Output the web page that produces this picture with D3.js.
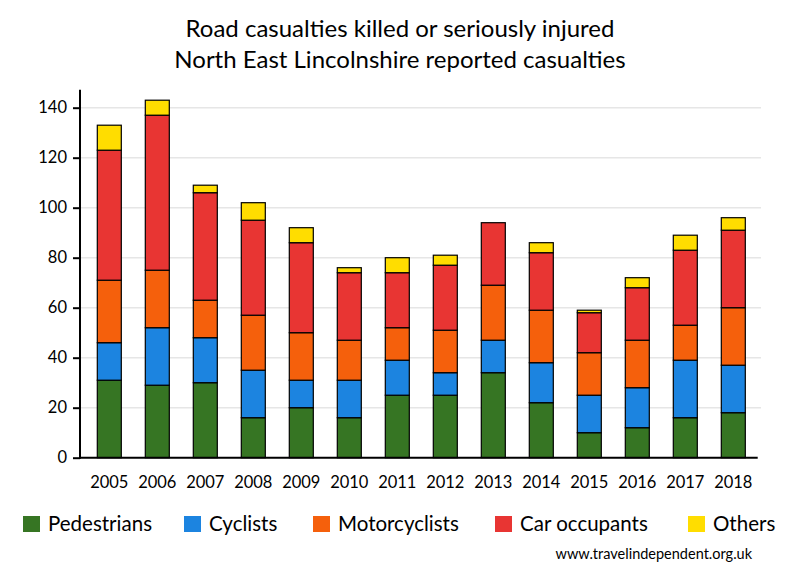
<!DOCTYPE html>
<html><head><meta charset="utf-8">
<script src="https://cdn.jsdelivr.net/npm/d3@7"></script>
<style>body{margin:0;background:#fff}text{font-family:Lato,"Open Sans",sans-serif;fill:#000}</style>
</head><body><svg id="c" width="800" height="580"></svg>
<script>
const years = ["2005","2006","2007","2008","2009","2010","2011","2012","2013","2014","2015","2016","2017","2018"];
const pedestrians = [31,29,30,16,20,16,25,25,34,22,10,12,16,18];
const cyclists    = [15,23,18,19,11,15,14, 9,13,16,15,16,23,19];
const motorcyclists=[25,23,15,22,19,16,13,17,22,21,17,19,14,23];
const carOccupants= [52,62,43,38,36,27,22,26,25,23,16,21,30,31];
const others      = [10, 6, 3, 7, 6, 2, 6, 4, 0, 4, 1, 4, 6, 5];
const seriesNames = ["Pedestrians","Cyclists","Motorcyclists","Car occupants","Others"];
const seriesColors = ["#367523","#1c84e0","#f5600c","#e83533","#ffdd00"];
const yTicks = [0,20,40,60,80,100,120,140];
const titleLines = ["Road casualties killed or seriously injured","North East Lincolnshire reported casualties"];

const svg = d3.select("#c");
const rows = years.map((y,i)=>({year:y,"Pedestrians":pedestrians[i],"Cyclists":cyclists[i],"Motorcyclists":motorcyclists[i],"Car occupants":carOccupants[i],"Others":others[i]}));
const stack = d3.stack().keys(seriesNames)(rows);

const x = d3.scaleBand().domain(years).range([85.3,757.3]).paddingInner(0.5).paddingOuter(0.25);
const y = d3.scaleLinear().domain([0,140]).range([457.7,107.7]);

// gridlines
svg.append("g").selectAll("line").data(yTicks.filter(d=>d>0)).join("line")
  .attr("x1",80).attr("x2",761).attr("y1",d=>y(d)).attr("y2",d=>y(d))
  .attr("stroke","#e6e6e6").attr("stroke-width",1.5);

// bars
svg.append("g").selectAll("g").data(stack).join("g")
  .attr("fill",(d,i)=>seriesColors[i])
  .selectAll("rect").data(d=>d.filter(s=>s[1]-s[0]>0)).join("rect")
  .attr("x",d=>x(d.data.year)).attr("width",x.bandwidth())
  .attr("y",d=>y(d[1])).attr("height",d=>y(d[0])-y(d[1]))
  .attr("stroke","#000").attr("stroke-width",1.2);

// y axis
const ya = svg.append("g").attr("transform","translate(80,0)")
  .call(d3.axisLeft(y).tickValues(yTicks).tickSize(7).tickPadding(6));
ya.selectAll("path,line").attr("stroke","#000").attr("stroke-width",2);
ya.select(".domain").attr("d","M0,"+(y(0)+1)+"V"+(y(140)-18));
ya.selectAll("text").style("font-size","16.5px").attr("font-family",null);

// x axis
const xa = svg.append("g").attr("transform","translate(0,"+y(0)+")")
  .call(d3.axisBottom(x).tickSize(0).tickPadding(18.5));
xa.select(".domain").attr("d","M79,0H757.7").attr("stroke","#000").attr("stroke-width",2);
xa.selectAll("text").style("font-size","16.5px").attr("font-family",null);

// title
svg.append("g").selectAll("text").data(titleLines).join("text")
  .attr("x",400).attr("y",(d,i)=>37+i*31).attr("text-anchor","middle")
  .style("font-size","24px").text(d=>d);

// legend
const legX = [23,184,313,495,688];
const lg = svg.append("g").selectAll("g").data(seriesNames).join("g")
  .attr("transform",(d,i)=>"translate("+legX[i]+",516)");
lg.append("rect").attr("width",17).attr("height",16).attr("fill",(d,i)=>seriesColors[i]);
lg.append("text").attr("x",25).attr("y",15).style("font-size","20.5px").text(d=>d);

svg.append("text").attr("x",752).attr("y",559).attr("text-anchor","end")
  .style("font-size","14.5px").text("www.travelindependent.org.uk");
</script></body></html>
